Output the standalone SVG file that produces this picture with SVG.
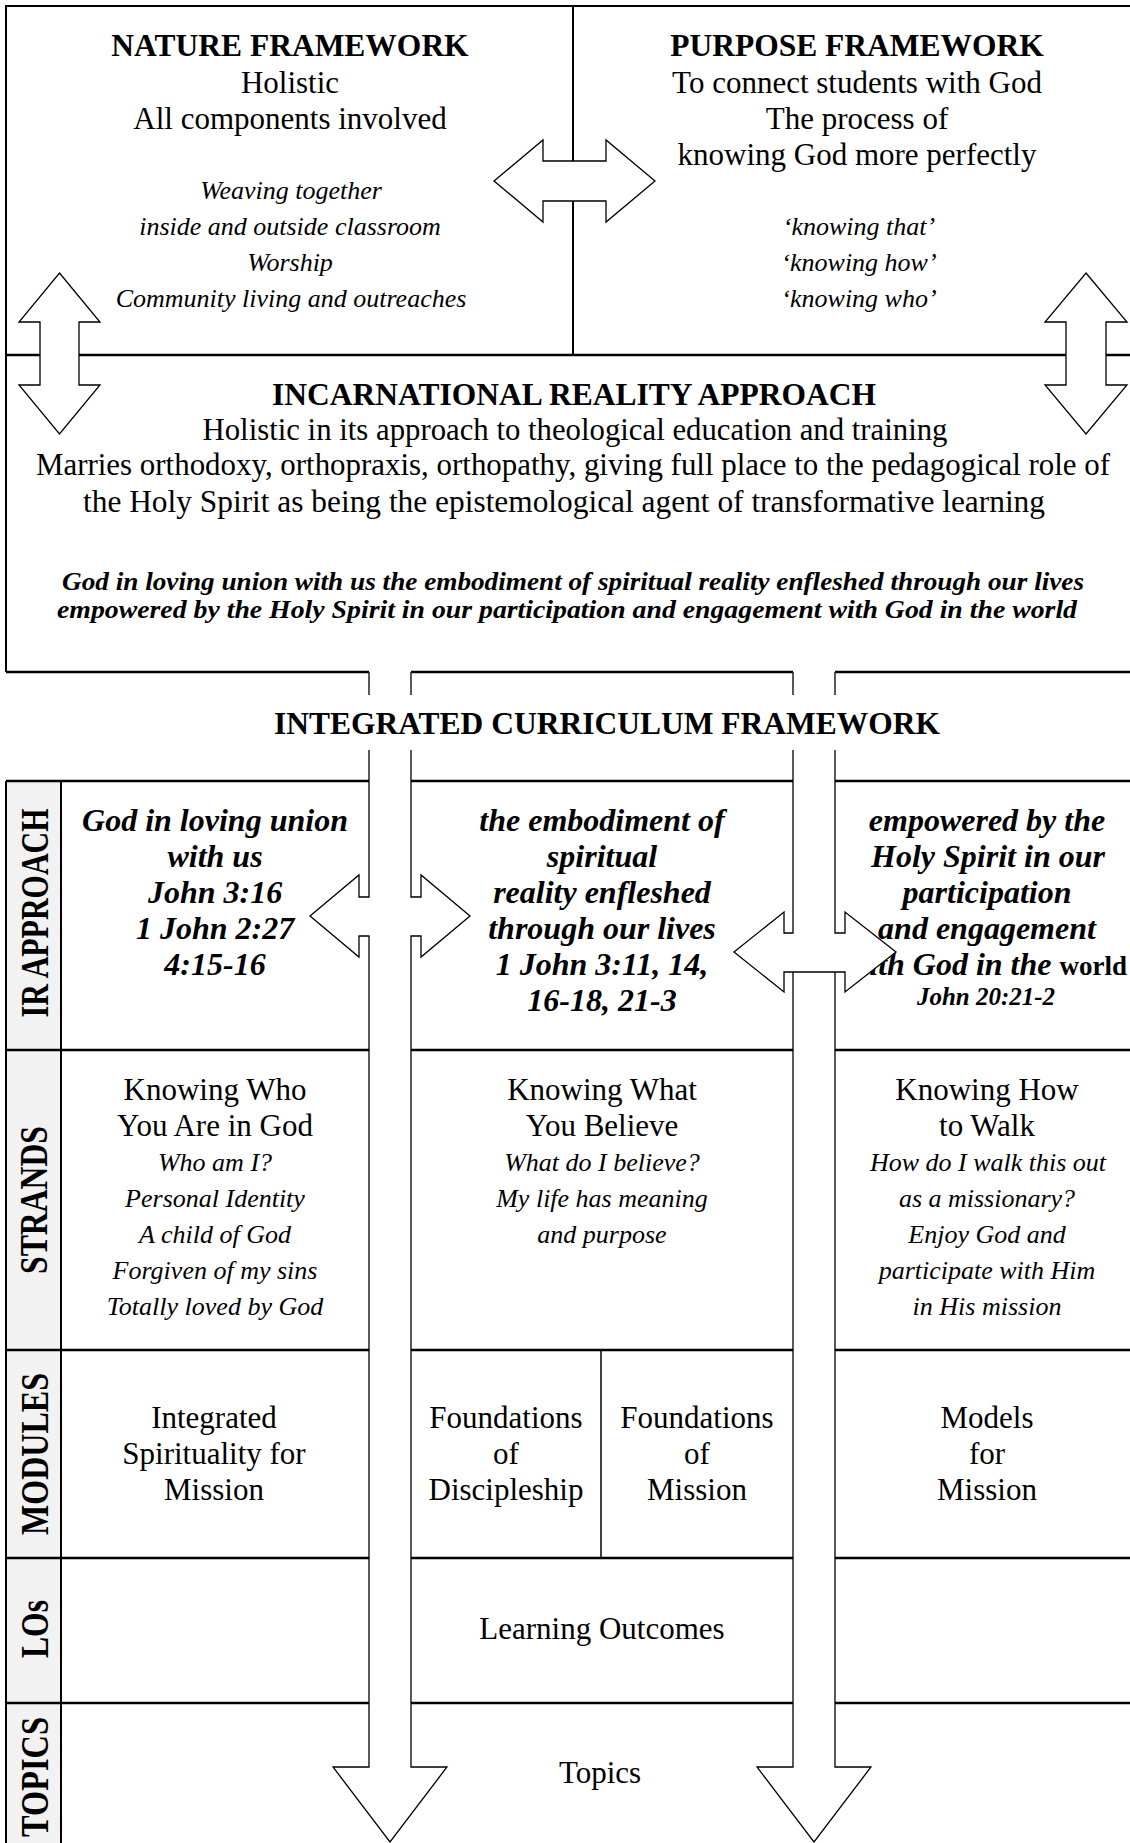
<svg xmlns="http://www.w3.org/2000/svg" width="1130" height="1843" viewBox="0 0 1130 1843">
<style>
.t{font-family:"Liberation Serif","Times New Roman",serif;fill:#000;text-anchor:middle}
.s{text-anchor:start}
.e{text-anchor:end}
.reg{font-size:31px}
.it{font-size:26px;font-style:italic}
.ti{font-size:31.5px;font-weight:bold}
.bi{font-size:32px;font-weight:bold;font-style:italic}
.bis{font-size:26px;font-weight:bold;font-style:italic}
.lbl{font-size:40px;font-weight:bold}
.ln{stroke:#000;stroke-width:2.5;fill:none}
.ln2{stroke:#000;stroke-width:2;fill:none}
.thin{stroke:#000;stroke-width:1.5;fill:none}
.arr{stroke:#000;stroke-width:1.3;fill:#fff;stroke-linejoin:miter}
.shaft{stroke:#222;stroke-width:1.5;fill:none}
.wf{fill:#fff;stroke:none}
</style>
<rect width="1130" height="1843" fill="#fff"/>

<g id="frames">
  <path class="ln2" d="M6,355 V6 H1130"/>
  <path class="ln2" d="M573,6 V355"/>
  <path class="ln" d="M6,355 H1130"/>
  <path class="ln2" d="M6,355 V672"/>
  <path class="ln" d="M6,672 H369 M411,672 H793 M835,672 H1130"/>
</g>

<g id="table-grid">
  <rect x="6" y="781" width="55" height="1062" fill="#f2f2f2"/>
  <path class="ln" d="M6,781 H369 M411,781 H793 M835,781 H1130"/>
  <path class="ln2" d="M6,781 V1843 M61,781 V1843"/>
  <path class="ln" d="M6,1050 H369 M411,1050 H793 M835,1050 H1130"/>
  <path class="ln" d="M6,1350 H369 M411,1350 H793 M835,1350 H1130"/>
  <path class="ln" d="M6,1558 H369 M411,1558 H793 M835,1558 H1130"/>
  <path class="ln" d="M6,1703 H369 M411,1703 H793 M835,1703 H1130"/>
  <path class="thin" d="M601,1350 V1558"/>
</g>

<g id="nature-framework">
  <text class="t ti" x="290" y="56">NATURE FRAMEWORK</text>
  <text class="t reg" x="290" y="93">Holistic</text>
  <text class="t reg" x="290" y="129">All components involved</text>
  <text class="t it" x="291" y="199">Weaving together</text>
  <text class="t it" x="290" y="235">inside and outside classroom</text>
  <text class="t it" x="290" y="271">Worship</text>
  <text class="t it" x="291" y="307">Community living and outreaches</text>
</g>

<g id="purpose-framework">
  <text class="t ti" x="857" y="56">PURPOSE FRAMEWORK</text>
  <text class="t reg" x="857" y="93">To connect students with God</text>
  <text class="t reg" x="857" y="129">The process of</text>
  <text class="t reg" x="857" y="165">knowing God more perfectly</text>
  <text class="t it" x="859" y="235">‘knowing that’</text>
  <text class="t it" x="859" y="271">‘knowing how’</text>
  <text class="t it" x="859" y="307">‘knowing who’</text>
</g>

<g id="incarnational-reality-approach">
  <text class="t ti" x="574" y="405">INCARNATIONAL REALITY APPROACH</text>
  <text class="t reg" x="575" y="440" textLength="745" lengthAdjust="spacingAndGlyphs">Holistic in its approach to theological education and training</text>
  <text class="t reg" x="573" y="475" textLength="1074" lengthAdjust="spacingAndGlyphs">Marries orthodoxy, orthopraxis, orthopathy, giving full place to the pedagogical role of</text>
  <text class="t reg" x="564" y="512" textLength="962" lengthAdjust="spacingAndGlyphs">the Holy Spirit as being the epistemological agent of transformative learning</text>
  <text class="t bis s" x="62" y="590" textLength="1022" lengthAdjust="spacingAndGlyphs">God in loving union with us the embodiment of spiritual reality enfleshed through our lives</text>
  <text class="t bis s" x="57" y="618" textLength="1020" lengthAdjust="spacingAndGlyphs">empowered by the Holy Spirit in our participation and engagement with God in the world</text>
</g>

<g id="integrated-curriculum-framework">
  <text class="t ti" x="607" y="734">INTEGRATED CURRICULUM FRAMEWORK</text>
</g>

<g id="row-labels">
  <text class="t lbl" transform="translate(48,913) rotate(-90)" x="0" y="0" textLength="209" lengthAdjust="spacingAndGlyphs">IR APPROACH</text>
  <text class="t lbl" transform="translate(47,1200) rotate(-90)" x="0" y="0" textLength="148" lengthAdjust="spacingAndGlyphs">STRANDS</text>
  <text class="t lbl" transform="translate(48,1454) rotate(-90)" x="0" y="0" textLength="162" lengthAdjust="spacingAndGlyphs">MODULES</text>
  <text class="t lbl" transform="translate(48,1629) rotate(-90)" x="0" y="0" textLength="58" lengthAdjust="spacingAndGlyphs">LOs</text>
  <text class="t lbl" transform="translate(48,1777) rotate(-90)" x="0" y="0" textLength="120" lengthAdjust="spacingAndGlyphs">TOPICS</text>
</g>

<g id="ir-cell-1">
  <text class="t bi" x="215" y="831">God in loving union</text>
  <text class="t bi" x="215" y="867">with us</text>
  <text class="t bi" x="215" y="903">John 3:16</text>
  <text class="t bi" x="215" y="939">1 John 2:27</text>
  <text class="t bi" x="215" y="975">4:15-16</text>
</g>
<g id="ir-cell-2">
  <text class="t bi" x="602" y="831">the embodiment of</text>
  <text class="t bi" x="602" y="867">spiritual</text>
  <text class="t bi" x="602" y="903">reality enfleshed</text>
  <text class="t bi" x="602" y="939">through our lives</text>
  <text class="t bi" x="602" y="975">1 John 3:11, 14,</text>
  <text class="t bi" x="602" y="1011">16-18, 21-3</text>
</g>
<g id="ir-cell-3">
  <text class="t bi" x="987" y="831">empowered by the</text>
  <text class="t bi" x="988" y="867">Holy Spirit in our</text>
  <text class="t bi" x="987" y="903">participation</text>
  <text class="t bi" x="987" y="939">and engagement</text>
  <text class="t bi e" x="1127" y="975">with God in the <tspan style="font-size:27px;font-style:normal">world</tspan></text>
  <text class="t bi" x="986" y="1005" style="font-size:25px">John 20:21-2</text>
</g>

<g id="strand-1">
  <text class="t reg" x="215" y="1100">Knowing Who</text>
  <text class="t reg" x="215" y="1136">You Are in God</text>
  <text class="t it" x="215" y="1171">Who am I?</text>
  <text class="t it" x="215" y="1207">Personal Identity</text>
  <text class="t it" x="215" y="1243">A child of God</text>
  <text class="t it" x="215" y="1279">Forgiven of my sins</text>
  <text class="t it" x="215" y="1315">Totally loved by God</text>
</g>
<g id="strand-2">
  <text class="t reg" x="602" y="1100">Knowing What</text>
  <text class="t reg" x="602" y="1136">You Believe</text>
  <text class="t it" x="602" y="1171">What do I believe?</text>
  <text class="t it" x="602" y="1207">My life has meaning</text>
  <text class="t it" x="602" y="1243">and purpose</text>
</g>
<g id="strand-3">
  <text class="t reg" x="987" y="1100">Knowing How</text>
  <text class="t reg" x="987" y="1136">to Walk</text>
  <text class="t it" x="988" y="1171">How do I walk this out</text>
  <text class="t it" x="987" y="1207">as a missionary?</text>
  <text class="t it" x="987" y="1243">Enjoy God and</text>
  <text class="t it" x="987" y="1279">participate with Him</text>
  <text class="t it" x="987" y="1315">in His mission</text>
</g>

<g id="module-1">
  <text class="t reg" x="214" y="1428">Integrated</text>
  <text class="t reg" x="214" y="1464">Spirituality for</text>
  <text class="t reg" x="214" y="1500">Mission</text>
</g>
<g id="module-2">
  <text class="t reg" x="506" y="1428">Foundations</text>
  <text class="t reg" x="506" y="1464">of</text>
  <text class="t reg" x="506" y="1500">Discipleship</text>
</g>
<g id="module-3">
  <text class="t reg" x="697" y="1428">Foundations</text>
  <text class="t reg" x="697" y="1464">of</text>
  <text class="t reg" x="697" y="1500">Mission</text>
</g>
<g id="module-4">
  <text class="t reg" x="987" y="1428">Models</text>
  <text class="t reg" x="987" y="1464">for</text>
  <text class="t reg" x="987" y="1500">Mission</text>
</g>

<g id="learning-outcomes">
  <text class="t reg" x="602" y="1639">Learning Outcomes</text>
</g>
<g id="topics">
  <text class="t reg" x="600" y="1783">Topics</text>
</g>

<g id="connectors">
  <polygon class="arr" points="494,181 543,140 543,161 606,161 606,140 655,181 606,222 606,201 543,201 543,222"/>
  <polygon class="arr" points="59.5,273 100,322 79,322 79,385 100,385 59.5,434 19,385 40,385 40,322 19,322"/>
  <polygon class="arr" points="1086,273 1127,322 1106,322 1106,385 1127,385 1086,434 1045,385 1066,385 1066,322 1045,322"/>

  <path class="shaft" d="M369,672 V695 M411,672 V695"/>
  <path class="arr" style="fill:none" d="M369,750 V897 H359 V875 L310,916 L359,957 V936 H369 V1767 H333 L390,1842 L447,1767 H411 V936 H421 V957 L470,916 L421,875 V897 H411 V750"/>

  <path class="shaft" d="M793,672 V695 M835,672 V695"/>
  <polygon class="wf" points="784,933 784,912 734,952 784,992 784,972 845,972 845,992 896,952 845,912 845,933"/>
  <path class="arr" style="fill:none" d="M793,750 V933 H784 V912 L734,952 L784,992 V972 H845 V992 L896,952 L845,912 V933 H835 V750"/>
  <path class="arr" style="fill:none" d="M793,972 V1767 H757 L814,1842 L871,1767 H835 V972"/>
</g>
</svg>
